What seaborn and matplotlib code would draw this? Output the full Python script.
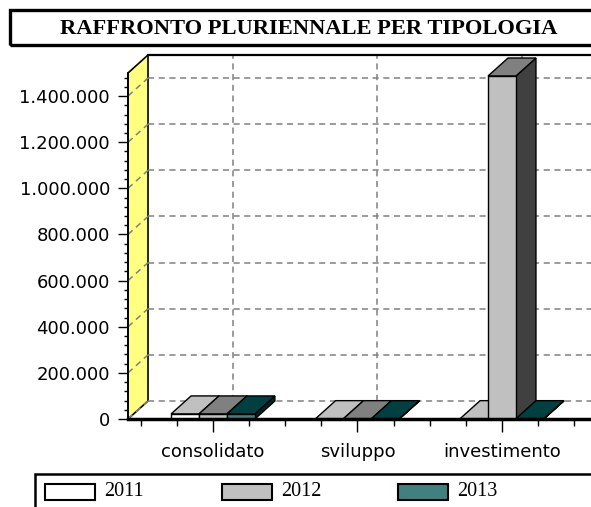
import numpy as np
import pandas as pd
import matplotlib
matplotlib.use('Agg')
import matplotlib.pyplot as plt
from matplotlib.patches import Polygon, Rectangle
from matplotlib.ticker import MultipleLocator, FuncFormatter
import seaborn as sns

categories = ['consolidato', 'sviluppo', 'investimento']
years = ['2011', '2012', '2013']
val_2011 = [22000, 1500, 1500]
val_2012 = [22000, 1500, 1487000]
val_2013 = [22000, 1500, 1500]

front_colors = ['#ffffff', '#c0c0c0', '#408080']
top_colors = ['#c0c0c0', '#808080', '#004040']
side_colors = ['#808080', '#404040', '#002828']

y_max = 1500000
y_step = 200000

plt.rcParams['font.family'] = ['DejaVu Sans']

df = pd.DataFrame({
    'tipologia': categories * len(years),
    'anno': np.repeat(years, len(categories)),
    'valore': val_2011 + val_2012 + val_2013,
})

W, H = 591, 507
fig = plt.figure(figsize=(W / 100, H / 100), dpi=100)


def fx(px):
    return px / W


def fy(py):
    return 1 - py / H


# front plane of the fake 3D box (pixels), depth offset of the back wall
X0, Y0, Y1 = 128, 419, 73
CAT_PX = 144.5
DX_PX, DY_PX = 20, 18
x_lo = -(213 - X0) / CAT_PX
x_hi = 3.0
ax = fig.add_axes([fx(X0), fy(Y0), (x_hi - x_lo) * CAT_PX / W, (Y0 - Y1) / H])
ax.patch.set_visible(False)

sns.barplot(data=df, x='tipologia', y='valore', hue='anno',
            palette=dict(zip(years, front_colors)), width=0.58, saturation=1,
            edgecolor='black', linewidth=1, legend=False, ax=ax)
ax.set_xlim(x_lo, x_hi)
ax.set_ylim(0, y_max)
ax.set_xlabel('')
ax.set_ylabel('')

dx = DX_PX / CAT_PX
dy = DY_PX * y_max / (Y0 - Y1)

# ── walls and grid ──────────────────────────────────────────
wall = Polygon([(x_lo, 0), (x_lo, y_max), (x_lo + dx, y_max + dy), (x_lo + dx, dy)],
               closed=True, fc='#ffff80', ec='black', lw=1.2, clip_on=False, zorder=0.8)
ax.add_patch(wall)

grid_kw = dict(color='#808080', lw=1.1, ls=(0, (4, 3)), clip_on=False, zorder=1)
for v in np.arange(0, y_max, y_step):
    ax.plot([x_lo + dx, x_hi + dx], [v + dy, v + dy], **grid_kw)
    ax.plot([x_lo, x_lo + dx], [v, v + dy], **grid_kw)
for i in range(len(categories)):
    ax.plot([i + dx, i + dx], [dy, y_max + dy], **grid_kw)

ax.plot([x_lo + dx, x_hi + dx], [y_max + dy, y_max + dy], color='black', lw=1.6,
        clip_on=False, zorder=1.2)

# ── top and side faces of the bars ──────────────────────────
bars = []
for k, cont in enumerate(ax.containers):
    for p in cont.patches:
        bars.append((p.get_x(), k, p))
bars.sort(key=lambda b: b[0])

for n, (x, k, p) in enumerate(bars):
    w, h = p.get_width(), p.get_height()
    z = 3 + n * 0.1
    side = Polygon([(x + w, 0), (x + w + dx, dy), (x + w + dx, h + dy), (x + w, h)],
                   closed=True, fc=side_colors[k], ec='black', lw=1, clip_on=False, zorder=z)
    top = Polygon([(x, h), (x + w, h), (x + w + dx, h + dy), (x + dx, h + dy)],
                  closed=True, fc=top_colors[k], ec='black', lw=1, clip_on=False, zorder=z + 0.01)
    ax.add_patch(side)
    ax.add_patch(top)
    p.set_zorder(z + 0.05)
    p.set_clip_on(False)

# ── axes, ticks ─────────────────────────────────────────────
ax.spines['top'].set_visible(False)
ax.spines['right'].set_visible(False)
ax.spines['left'].set_linewidth(1.2)
ax.spines['bottom'].set_linewidth(2.5)
ax.spines['bottom'].set_zorder(10)

ax.set_yticks(np.arange(0, y_max, y_step))
ax.yaxis.set_major_formatter(FuncFormatter(lambda v, _: f'{int(v):,}'.replace(',', '.')))
ax.yaxis.set_minor_locator(MultipleLocator(40000))
ax.xaxis.set_minor_locator(MultipleLocator(0.25))

ax.tick_params(axis='x', which='major', length=9, width=1, pad=8, labelsize=13, colors='black')
ax.tick_params(axis='x', which='minor', length=5, width=1)
ax.tick_params(axis='y', which='major', length=7, width=1, pad=6, labelsize=13, colors='black')
ax.tick_params(axis='y', which='minor', length=3, width=1)

# ── title box ───────────────────────────────────────────────
fig.add_artist(Rectangle((fx(10), fy(45)), fx(620) - fx(10), 35 / H, transform=fig.transFigure,
                         fill=False, ec='black', lw=2.4))
fig.text(fx(309), fy(29), 'RAFFRONTO PLURIENNALE PER TIPOLOGIA', ha='center', va='center',
         family='Liberation Serif', weight='bold', size=16.2)

# ── legend ──────────────────────────────────────────────────
fig.add_artist(Rectangle((fx(35), fy(530)), fx(620) - fx(35), 56 / H, transform=fig.transFigure,
                         fill=False, ec='black', lw=1.8))
for lx, year, col in zip([45, 222, 398], years, front_colors):
    fig.add_artist(Rectangle((fx(lx), fy(500)), 50 / W, 16 / H, transform=fig.transFigure,
                             fc=col, ec='black', lw=1.5))
    fig.text(fx(lx + 59), fy(492), year, ha='left', va='center',
             family='Liberation Serif', size=14.5)

fig.savefig('out.png', dpi=100)
